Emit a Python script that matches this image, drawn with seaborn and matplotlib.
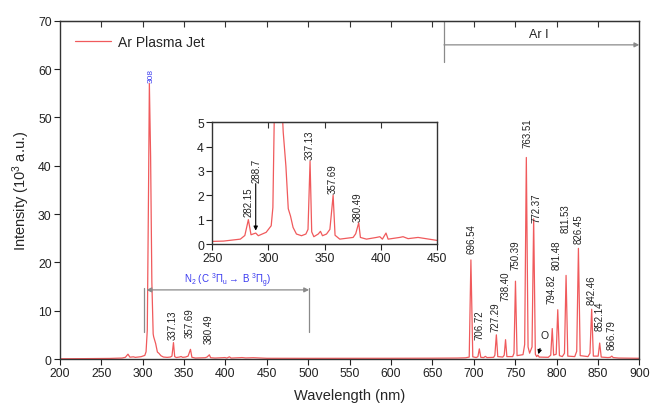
import numpy as np
import pandas as pd
import matplotlib
matplotlib.use("Agg")
import matplotlib.pyplot as plt
import seaborn as sns

# Emission spectrum of the argon plasma jet (intensity in 10^3 a.u.)
wavelength = [
    200, 230, 260, 275, 279, 282.15, 284.5, 288.7, 291, 298, 302.5, 304, 305.5,
    307, 308, 309.5, 311, 312.6, 313.2, 315.6, 317.7, 319.7, 322, 325, 329.5,
    333.4, 335.3, 337.13, 338.6, 340.5, 344.4, 346.4, 348.2, 351.8, 354.8,
    357.69, 359.4, 363.6, 375.5, 377.8, 380.49, 382, 387.4, 396.3, 399.3,
    401.6, 404.8, 406.7, 417, 420, 424.5, 433.4, 450, 500, 600, 650, 680, 690,
    694.5, 696.54, 698.8, 703, 705, 706.72, 708.5, 712, 714, 716, 724, 725.5,
    727.29, 729, 735, 736.8, 738.4, 740, 747, 748.6, 750.39, 752.3, 759.5,
    761.5, 763.51, 765.6, 767.5, 770.4, 772.37, 774.4, 776, 777.5, 779, 790,
    793, 794.82, 796.5, 799.6, 801.48, 803.5, 807, 809.6, 811.53, 813.6, 822,
    824.4, 826.45, 828.6, 838, 840.4, 842.46, 844.5, 850.3, 852.14, 854, 862,
    865, 866.79, 868.5, 875, 900,
]
intensity = [
    0.05, 0.08, 0.12, 0.2, 0.35, 1.0, 0.38, 0.45, 0.34, 0.48, 0.75, 1.5, 6.0,
    35.0, 57.0, 42.0, 16.0, 5.2, 4.6, 3.2, 1.45, 1.15, 0.68, 0.41, 0.34,
    0.41, 0.6, 3.4, 0.5, 0.3, 0.41, 0.52, 0.34, 0.41, 0.6,
    2.0, 0.36, 0.2, 0.27, 0.42, 0.87, 0.27, 0.2, 0.27, 0.3,
    0.2, 0.45, 0.2, 0.27, 0.3, 0.22, 0.27, 0.15, 0.14, 0.15, 0.17, 0.2, 0.25,
    0.4, 20.5, 0.45, 0.3, 0.5, 2.1, 0.35, 0.3, 0.55, 0.3, 0.35, 0.8,
    5.0, 0.5, 0.4, 0.8, 4.0, 0.5, 0.5, 1.2, 16.1, 0.7, 0.9,
    3.0, 41.7, 2.5, 1.2, 2.5, 29.0, 1.0, 0.5, 0.8, 0.4, 0.35,
    0.8, 6.3, 0.8, 1.0, 10.2, 0.7, 0.5, 1.2, 17.3, 0.6, 0.5,
    1.6, 22.9, 0.7, 0.5, 1.2, 10.3, 0.6, 0.6, 3.3, 0.4, 0.3,
    0.35, 0.6, 0.3, 0.2, 0.15,
]

# Peak labels in the main panel: (text, x, y of label bottom)
main_labels = ["337.13", "357.69", "380.49", "696.54", "706.72", "727.29",
               "738.40", "750.39", "763.51", "772.37", "794.82", "801.48",
               "811.53", "826.45", "842.46", "852.14", "866.79"]
main_label_x = [336.5, 357, 380, 697, 707, 726, 738, 751, 764.5, 776, 794,
                800.5, 811.5, 826.5, 843, 852.5, 866.5]
main_label_y = [4.1, 4.5, 3.4, 22.0, 4.1, 5.8, 12.2, 18.6, 43.8, 28.3, 11.6,
                18.6, 26.2, 24.0, 11.4, 5.9, 2.1]

# Peak labels in the inset panel
inset_labels = ["282.15", "288.7", "337.13", "357.69", "380.49"]
inset_label_x = [282.0, 289.5, 337.0, 357.5, 380.0]
inset_label_y = [1.16, 2.56, 3.49, 2.1, 0.96]

df = pd.DataFrame({"Wavelength": wavelength, "Intensity": intensity})

sns.set_style("ticks")
plt.rcParams["font.family"] = ["Liberation Sans", "DejaVu Sans"]
plt.rcParams["mathtext.fontset"] = "custom"
plt.rcParams["mathtext.rm"] = "Liberation Sans"
plt.rcParams["mathtext.it"] = "Liberation Sans"

line_color = "#f05a5c"
spine_color = "#333333"
arrow_color = "#8a8a8a"
blue = "#3a3af0"

fig = plt.figure(figsize=(6.52, 4.14), dpi=100)
ax = fig.add_axes([0.092, 0.1304, 0.8885, 0.8172])

sns.lineplot(data=df, x="Wavelength", y="Intensity", ax=ax, color=line_color,
             lw=0.9, label="Ar Plasma Jet")
ax.set_xlim(200, 900)
ax.set_ylim(0, 70)
ax.set_xticks(np.arange(200, 901, 50))
ax.set_yticks(np.arange(0, 71, 10))
ax.set_xlabel("Wavelength (nm)", fontsize=10.5, labelpad=6)
ax.set_ylabel("Intensity (10$^3$ a.u.)", fontsize=10.5, labelpad=4)
ax.tick_params(axis="both", direction="out", length=4, width=0.8,
               labelsize=8.8, colors="#222222", pad=2)
for s in ax.spines.values():
    s.set_visible(True)
    s.set_color(spine_color)
    s.set_linewidth(1.0)
top = ax.secondary_xaxis("top")
top.set_xticks(np.arange(250, 851, 50))
top.tick_params(direction="in", length=4, width=0.8, labeltop=False,
                colors=spine_color)

leg = ax.legend(loc="upper left", frameon=False, fontsize=10,
                handlelength=2.6, handletextpad=0.5,
                bbox_to_anchor=(0.005, 0.995))

for t, x, y in zip(main_labels, main_label_x, main_label_y):
    ax.text(x, y, t, rotation=90, ha="center", va="bottom", fontsize=7,
            color="#222222")
ax.text(309.6, 57.3, "308", rotation=90, ha="center", va="bottom",
        fontsize=6, color=blue)

# N2 second positive system span
ax.plot([302, 302], [5.6, 14.6], color=arrow_color, lw=0.9)
ax.plot([501, 501], [5.6, 14.6], color=arrow_color, lw=0.9)
ax.annotate("", xy=(304.5, 14.3), xytext=(501, 14.3),
            arrowprops=dict(arrowstyle="<|-|>", color=arrow_color, lw=0.9,
                            mutation_scale=7, shrinkA=0, shrinkB=0))
ax.text(403, 16.3, r"N$_2$ (C $^3\Pi_u \rightarrow$ B $^3\Pi_g$)",
        ha="center", va="center", fontsize=7, color=blue)

# Ar I span
ax.plot([664, 664], [61.5, 70], color=arrow_color, lw=0.9)
ax.annotate("", xy=(900, 65.0), xytext=(664, 65.0),
            arrowprops=dict(arrowstyle="-|>", color=arrow_color, lw=0.9,
                            mutation_scale=7, shrinkA=0, shrinkB=0))
ax.text(779, 67.3, "Ar I", ha="center", va="center", fontsize=9,
        color="#222222")

# Oxygen line
ax.annotate("O", xy=(778, 1.0), xytext=(785, 5.0), ha="center",
            va="center", fontsize=7.5, color="#222222",
            arrowprops=dict(arrowstyle="-|>", color="black", lw=0.8,
                            mutation_scale=6, shrinkA=4, shrinkB=0))

# Inset: zoom on the UV part of the spectrum
ins = fig.add_axes([0.3256, 0.4082, 0.3442, 0.294])
sns.lineplot(data=df, x="Wavelength", y="Intensity", ax=ins,
             color=line_color, lw=0.9, legend=False)
ins.set_xlim(250, 450)
ins.set_ylim(0, 5)
ins.set_xticks(np.arange(250, 451, 50))
ins.set_yticks(np.arange(0, 6, 1))
ins.set_xlabel("")
ins.set_ylabel("")
ins.tick_params(axis="both", direction="out", length=4, width=0.8,
                labelsize=8.8, colors="#222222", pad=2)
for s in ins.spines.values():
    s.set_visible(True)
    s.set_color(spine_color)
    s.set_linewidth(1.0)
itop = ins.secondary_xaxis("top")
itop.set_xticks([300, 350, 400])
itop.tick_params(direction="in", length=4, width=0.8, labeltop=False,
                 colors=spine_color)
for t, x, y in zip(inset_labels, inset_label_x, inset_label_y):
    ins.text(x, y, t, rotation=90, ha="center", va="bottom", fontsize=7,
             color="#222222")
ins.annotate("", xy=(288.7, 0.55), xytext=(288.7, 2.48),
             arrowprops=dict(arrowstyle="-|>", color="black", lw=0.8,
                             mutation_scale=6, shrinkA=0, shrinkB=0))

fig.savefig("out.png", dpi=100)
